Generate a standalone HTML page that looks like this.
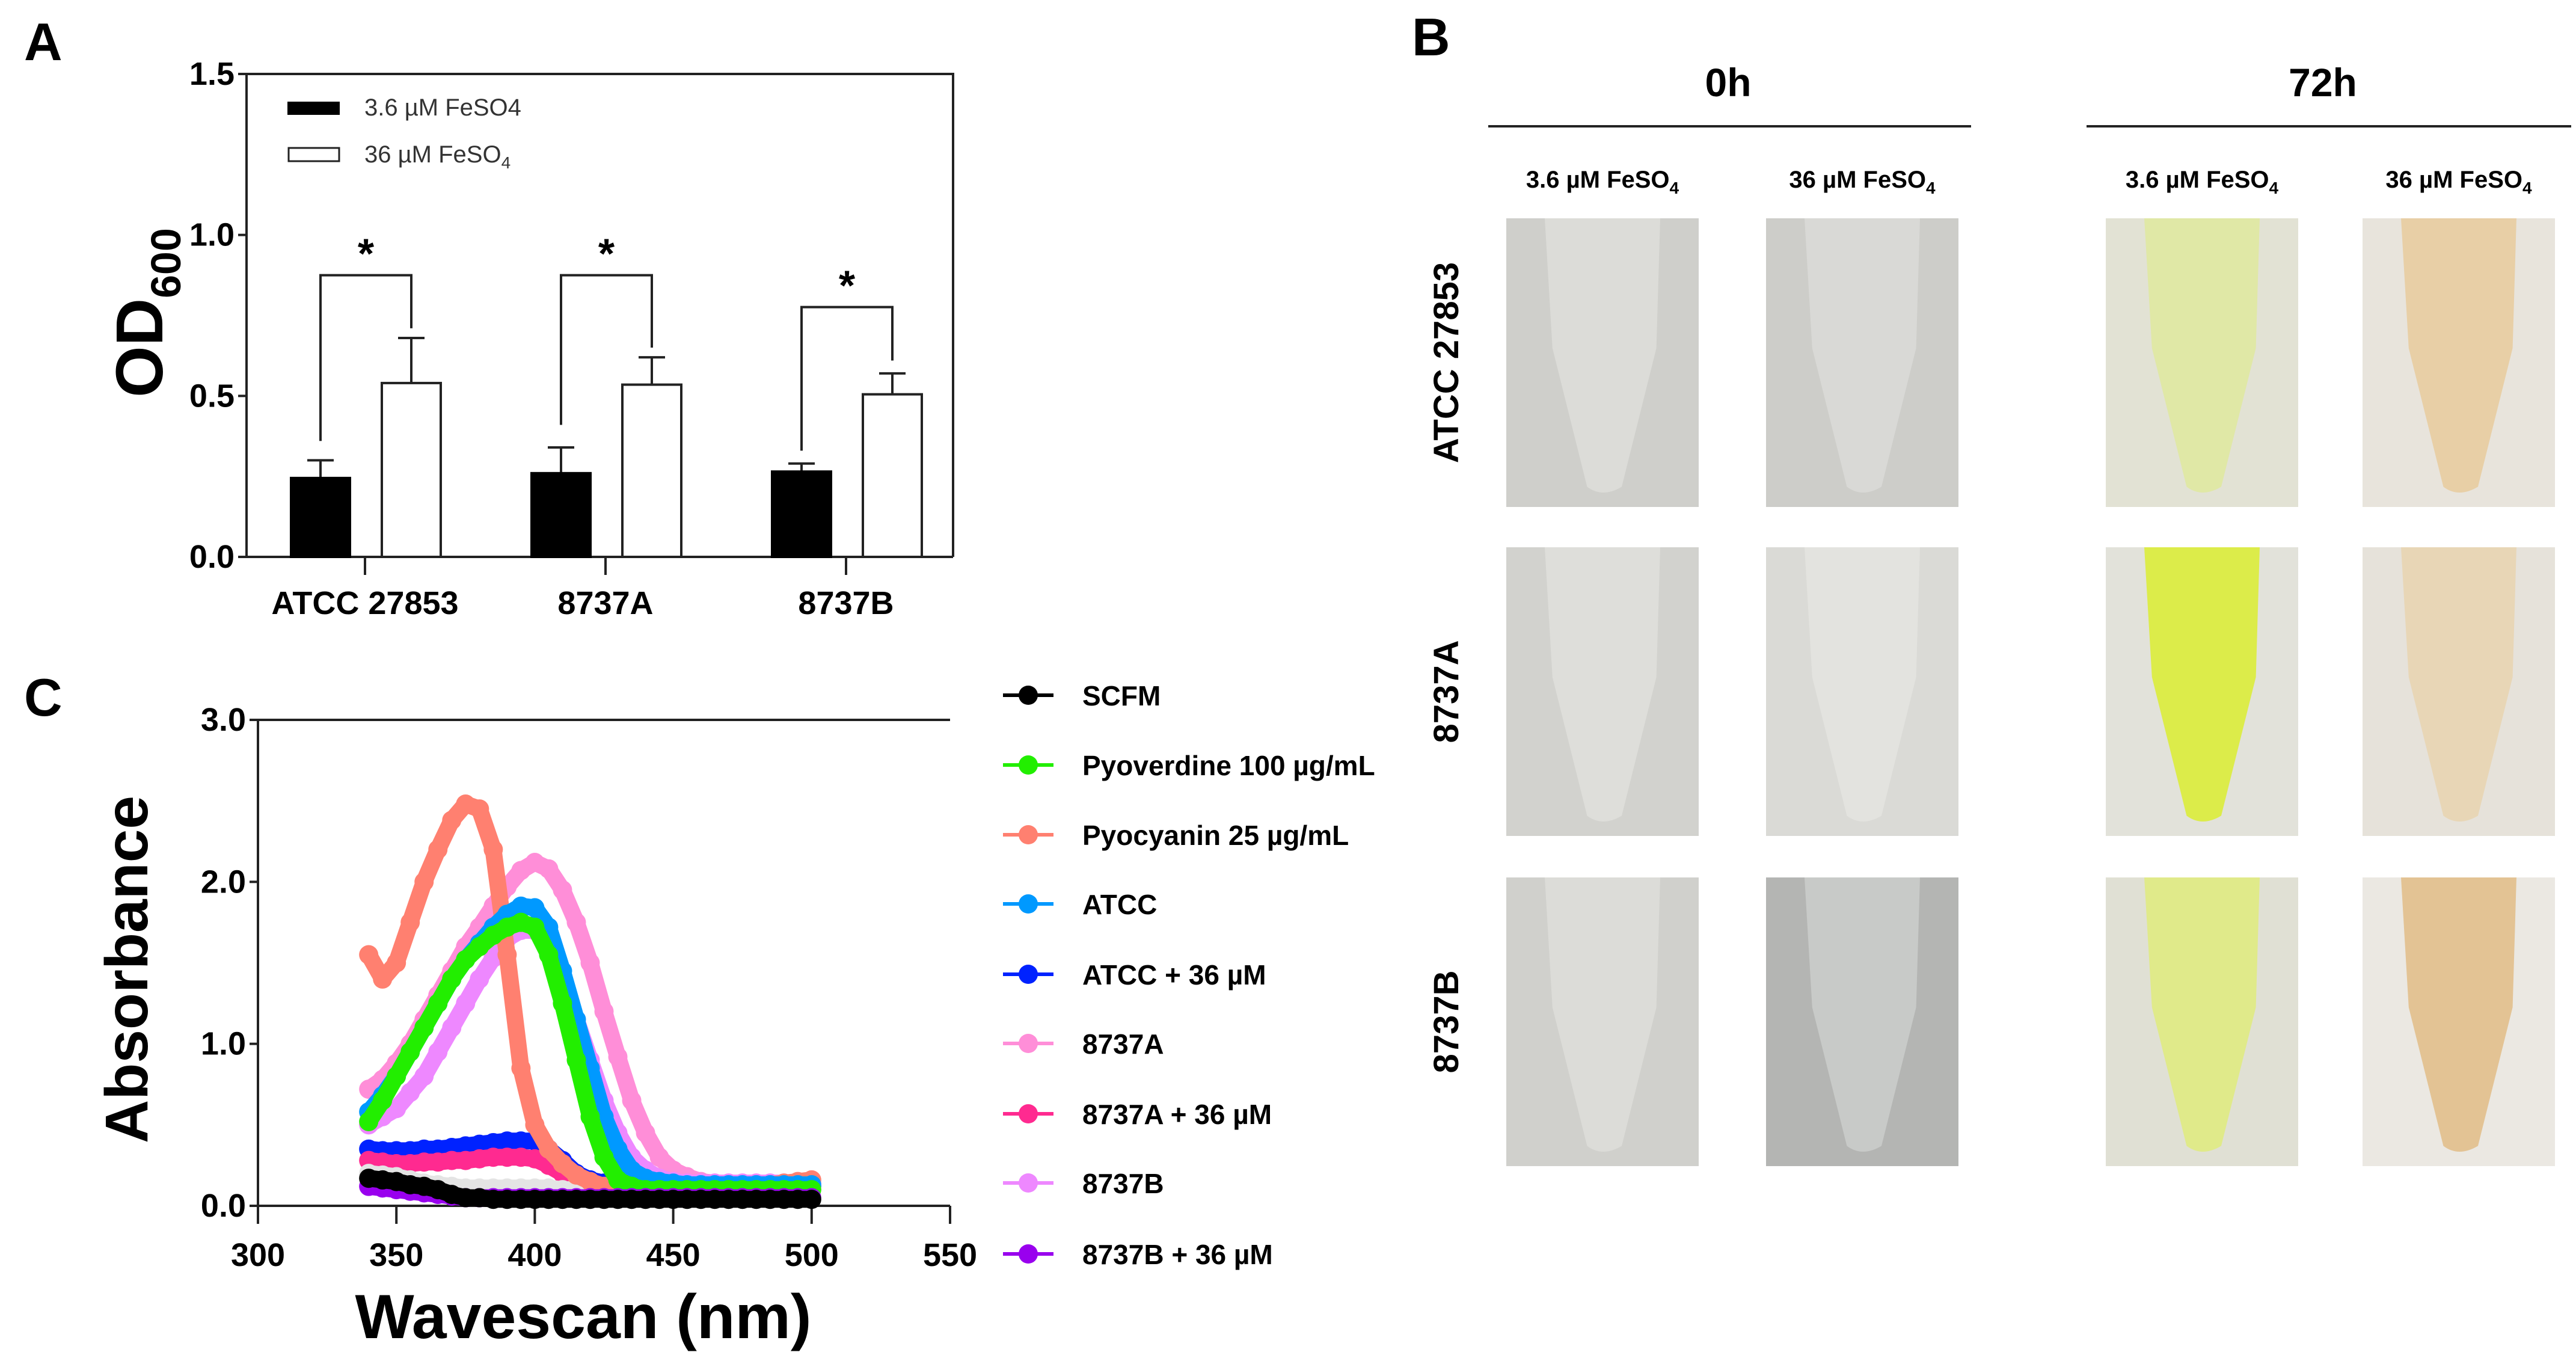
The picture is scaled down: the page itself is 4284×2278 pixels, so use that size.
<!DOCTYPE html>
<html><head><meta charset="utf-8">
<style>
html,body{margin:0;padding:0;background:#fff;}
svg{display:block;font-family:"Liberation Sans",sans-serif;}
</style></head>
<body>
<svg id="fig" width="4284" height="2278" viewBox="0 0 4284 2278" xmlns="http://www.w3.org/2000/svg">
<g id="panelA"></g>
<g id="panelB"></g>
<g id="panelC"></g>
</svg>
<script>
// ---------- Panel A data ----------
const barCategories = ["ATCC 27853", "8737A", "8737B"];
const lowIronMeans = [0.245, 0.26, 0.265];
const lowIronErr = [0.055, 0.08, 0.025];
const highIronMeans = [0.54, 0.535, 0.505];
const highIronErr = [0.14, 0.085, 0.065];
const bracketTops = [0.875, 0.875, 0.776];
const bracketLeft = [0.36, 0.41, 0.33];
const bracketRight = [0.71, 0.65, 0.61];
const barYTicks = ["0.0", "0.5", "1.0", "1.5"];

// ---------- Panel C data ----------
const wavelengths = [340,345,350,355,360,365,370,375,380,385,390,395,400,405,410,415,420,425,430,435,440,445,450,455,460,465,470,475,480,485,490,495,500];
const scfm      = [0.17,0.16,0.15,0.13,0.12,0.10,0.07,0.05,0.05,0.04,0.04,0.04,0.04,0.04,0.04,0.04,0.04,0.04,0.04,0.04,0.04,0.04,0.04,0.04,0.04,0.04,0.04,0.04,0.04,0.04,0.04,0.04,0.04];
const greyBand  = [0.20,0.19,0.18,0.16,0.14,0.13,0.12,0.11,0.11,0.11,0.11,0.11,0.11,0.11,0.10,0.10,0.10,0.10,0.10,0.10,0.10,0.10,0.10,0.10,0.10,0.10,0.10,0.10,0.10,0.10,0.10,0.10,0.10];
const pyoverdine= [0.52,0.65,0.80,0.95,1.10,1.25,1.40,1.52,1.60,1.67,1.72,1.75,1.72,1.55,1.25,0.90,0.55,0.30,0.16,0.12,0.10,0.10,0.10,0.10,0.10,0.10,0.10,0.10,0.10,0.10,0.10,0.10,0.10];
const pyocyanin = [1.55,1.40,1.50,1.75,2.00,2.20,2.38,2.48,2.45,2.20,1.55,0.85,0.50,0.35,0.26,0.19,0.15,0.12,0.10,0.10,0.10,0.10,0.10,0.10,0.11,0.11,0.12,0.12,0.13,0.13,0.14,0.15,0.16];
const atcc      = [0.58,0.68,0.80,0.95,1.10,1.25,1.40,1.52,1.62,1.72,1.80,1.85,1.84,1.72,1.45,1.15,0.85,0.55,0.35,0.22,0.17,0.15,0.14,0.13,0.13,0.13,0.13,0.13,0.13,0.13,0.13,0.13,0.13];
const atcc36    = [0.35,0.34,0.34,0.34,0.35,0.35,0.36,0.37,0.38,0.39,0.40,0.40,0.40,0.35,0.28,0.20,0.16,0.14,0.13,0.13,0.12,0.12,0.12,0.12,0.12,0.12,0.12,0.12,0.12,0.12,0.12,0.12,0.12];
const s8737A    = [0.72,0.78,0.88,1.00,1.15,1.30,1.45,1.60,1.72,1.85,1.97,2.07,2.12,2.08,1.95,1.75,1.50,1.20,0.92,0.65,0.45,0.30,0.22,0.18,0.15,0.14,0.14,0.14,0.14,0.14,0.14,0.14,0.14];
const s8737A36  = [0.28,0.27,0.26,0.26,0.27,0.27,0.28,0.28,0.29,0.30,0.30,0.30,0.29,0.25,0.20,0.14,0.11,0.10,0.10,0.10,0.10,0.10,0.10,0.10,0.10,0.10,0.10,0.10,0.10,0.10,0.10,0.10,0.10];
const s8737B    = [0.50,0.55,0.60,0.70,0.80,0.95,1.10,1.25,1.40,1.53,1.65,1.70,1.70,1.60,1.40,1.15,0.90,0.65,0.45,0.30,0.22,0.17,0.15,0.14,0.14,0.14,0.14,0.14,0.14,0.14,0.14,0.14,0.14];
const s8737B36  = [0.12,0.11,0.10,0.09,0.08,0.07,0.06,0.05,0.05,0.05,0.05,0.05,0.05,0.05,0.05,0.05,0.05,0.05,0.05,0.05,0.05,0.05,0.05,0.05,0.05,0.05,0.05,0.05,0.05,0.05,0.05,0.05,0.05];
const legendLabels = ["SCFM","Pyoverdine 100 µg/mL","Pyocyanin 25 µg/mL","ATCC","ATCC + 36 µM","8737A","8737A + 36 µM","8737B","8737B + 36 µM"];
const xTicksC = [300,350,400,450,500,550];
const yTicksC = ["0.0","1.0","2.0","3.0"];

const NS = "http://www.w3.org/2000/svg";
function mk(parent, tag, attrs, text){
  const e = document.createElementNS(NS, tag);
  for (const k in attrs) e.setAttribute(k, attrs[k]);
  if (text !== undefined) e.textContent = text;
  parent.appendChild(e);
  return e;
}

// ================= Panel A =================
(function(){
  const g = document.getElementById('panelA');
  const L=410, R=1585, T=123, B=926;
  const yA = v => B - v/1.5*(B-T);
  const xC = i => 607 + i*400;
  let t = mk(g,'text',{x:40,y:100,'font-size':88,'font-weight':'bold'},'A');
   
  let ax = mk(g,'path',{d:`M${L} ${T}H${R}V${B}M${L} ${T}V${B}H${R}`,stroke:'#222','stroke-width':4,fill:'none'});
   
  barYTicks.forEach((lab)=>{
    const y = yA(parseFloat(lab));
    mk(g,'line',{x1:L-14,x2:L,y1:y,y2:y,stroke:'#222','stroke-width':4});
    const tt = mk(g,'text',{x:L-20,y:y+18,'font-size':54,'font-weight':'bold','text-anchor':'end'},lab);
     
  });
  const yt = mk(g,'text',{x:0,y:0,'font-size':110,'font-weight':'bold','text-anchor':'middle',transform:'translate(270,520) rotate(-90)'});
   
  yt.textContent='OD';
  mk(yt,'tspan',{'font-size':70,dy:30},'600');
  barCategories.forEach((c,i)=>{
    const cx = xC(i);
    mk(g,'line',{x1:cx,x2:cx,y1:B,y2:B+30,stroke:'#222','stroke-width':4});
    const lt = mk(g,'text',{x:cx,y:B+95,'font-size':54,'font-weight':'bold','text-anchor':'middle'},c);
     
    const bw=98;
    const x1=cx-74, x2=cx+77;
    [[x1,lowIronMeans[i],lowIronErr[i]],[x2,highIronMeans[i],highIronErr[i]]].forEach(([x,m,e])=>{
      mk(g,'line',{x1:x,x2:x,y1:yA(m),y2:yA(m+e),stroke:'#222','stroke-width':4});
      mk(g,'line',{x1:x-22,x2:x+22,y1:yA(m+e),y2:yA(m+e),stroke:'#222','stroke-width':4});
    });
    const b1 = mk(g,'rect',{x:x1-bw/2,y:yA(lowIronMeans[i]),width:bw,height:B-yA(lowIronMeans[i]),fill:'#000',stroke:'#000','stroke-width':4});
     
    const b2 = mk(g,'rect',{x:x2-bw/2,y:yA(highIronMeans[i]),width:bw,height:B-yA(highIronMeans[i]),fill:'#fff',stroke:'#222','stroke-width':4});
     
    const br = mk(g,'path',{d:`M${x1} ${yA(bracketLeft[i])}V${yA(bracketTops[i])}H${x2}V${yA(bracketRight[i])}`,stroke:'#222','stroke-width':4,fill:'none'});
     
    const st = mk(g,'text',{x:(x1+x2)/2,y:yA(bracketTops[i])-12,'font-size':70,'font-weight':'bold','text-anchor':'middle'},'*');
     
  });
  const l1 = mk(g,'rect',{x:478,y:169,width:87,height:22,fill:'#000'});
   
  let lt1 = mk(g,'text',{x:606,y:192,'font-size':40,fill:'#333'},'3.6 µM FeSO4');
   
  const l2 = mk(g,'rect',{x:480,y:246,width:84,height:22,fill:'#fff',stroke:'#222','stroke-width':3});
   
  let lt2 = mk(g,'text',{x:606,y:270,'font-size':40,fill:'#333'},'36 µM FeSO');
  mk(lt2,'tspan',{'font-size':28,dy:10},'4');
   
})();

// ================= Panel B =================
(function(){
  const g = document.getElementById('panelB');
  let t = mk(g,'text',{x:2348,y:92,'font-size':88,'font-weight':'bold'},'B');
   
  [['0h',2874,2475,3278],['72h',3863,3470,4276]].forEach(([s,cx,a,b])=>{
    const h = mk(g,'text',{x:cx,y:160,'font-size':66,'font-weight':'bold','text-anchor':'middle'},s);
     
    mk(g,'line',{x1:a,x2:b,y1:210,y2:210,stroke:'#222','stroke-width':4});
  });
  const colX=[2505,2937,3502,3929], colW=320;
  const colLab=['3.6 µM FeSO','36 µM FeSO','3.6 µM FeSO','36 µM FeSO'];
  colX.forEach((x,i)=>{
    const h=mk(g,'text',{x:x+colW/2,y:312,'font-size':40,'font-weight':'bold','text-anchor':'middle'},colLab[i]);
    mk(h,'tspan',{'font-size':28,dy:10},'4');
     
  });
  const rowY=[363,910,1459], rowH=480;
  const rowLab=['ATCC 27853','8737A','8737B'];
  rowY.forEach((y,i)=>{
    const r=mk(g,'text',{x:0,y:0,'font-size':58,'font-weight':'bold','text-anchor':'middle',transform:`translate(2425,${y+rowH/2}) rotate(-90)`},rowLab[i]);
     
  });
  const pal = [
    [['#cfcfcb','#dcdcd8'],['#cdcdc9','#d9d9d6'],['#e2e2d4','#e0e8a6'],['#e8e4dc','#e8cfa6']],
    [['#d2d2ce','#dededa'],['#dadad6','#e3e3df'],['#e2e2da','#dcec4a'],['#e6e2da','#e8d6b6']],
    [['#d0d0cc','#dcdcd8'],['#b4b5b3','#c8cac8'],['#e0e0d4','#e0ea8a'],['#ebe8e2','#e3c394']]
  ];
  rowY.forEach((y,r)=>colX.forEach((x,c)=>{
    const ph = mk(g,'g',{});
     
    mk(ph,'rect',{x:x,y:y,width:colW,height:rowH,fill:pal[r][c][0]});
    const w=colW,h=rowH;
    mk(ph,'path',{d:`M${x+w*0.2} ${y}L${x+w*0.8} ${y}L${x+w*0.78} ${y+h*0.45}L${x+w*0.6} ${y+h*0.93}Q${x+w*0.5} ${y+h*0.97} ${x+w*0.42} ${y+h*0.93}L${x+w*0.24} ${y+h*0.45}Z`,fill:pal[r][c][1]});
  }));
})();

// ================= Panel C =================
(function(){
  const g = document.getElementById('panelC');
  const L=429, R=1580, T=1197, B=2005;
  const xS = v => L + (v-300)/250*(R-L);
  const yS = v => B - v/3*(B-T);
  let t = mk(g,'text',{x:40,y:1190,'font-size':88,'font-weight':'bold'},'C');
   
  const ax = mk(g,'path',{d:`M${L} ${T}H${R}M${L} ${T}V${B}H${R}`,stroke:'#222','stroke-width':4,fill:'none'});
   
  yTicksC.forEach(lab=>{
    const y=yS(parseFloat(lab));
    mk(g,'line',{x1:L-14,x2:L,y1:y,y2:y,stroke:'#222','stroke-width':4});
    const tt=mk(g,'text',{x:L-20,y:y+18,'font-size':54,'font-weight':'bold','text-anchor':'end'},lab);
     
  });
  xTicksC.forEach(v=>{
    const x=xS(v);
    mk(g,'line',{x1:x,x2:x,y1:B,y2:B+30,stroke:'#222','stroke-width':4});
    const tt=mk(g,'text',{x:x,y:B+100,'font-size':54,'font-weight':'bold','text-anchor':'middle'},String(v));
     
  });
  const xl=mk(g,'text',{x:970,y:2225,'font-size':104,'font-weight':'bold','text-anchor':'middle'},'Wavescan (nm)');
   
  const yl=mk(g,'text',{x:0,y:0,'font-size':100,'font-weight':'bold','text-anchor':'middle',transform:'translate(245,1612) rotate(-90)'},'Absorbance');
   

  const series = [
    [s8737A,'#ff8ed8','series-8737a'],
    [s8737B,'#ee88ff','series-8737b'],
    [atcc36,'#0022ff','series-atcc-36'],
    [s8737A36,'#ff2a90','series-8737a-36'],
    [greyBand,'#e4e4e4','series-background-band'],
    [pyocyanin,'#ff8070','series-pyocyanin'],
    [atcc,'#0099ff','series-atcc'],
    [pyoverdine,'#22ee00','series-pyoverdine'],
    [s8737B36,'#9900ee','series-8737b-36'],
    [scfm,'#000000','series-scfm']
  ];
  series.forEach(([vals,col,name])=>{
    const sg=mk(g,'g',{});
     
    const d=vals.map((v,i)=>(i?'L':'M')+xS(wavelengths[i]).toFixed(1)+' '+yS(v).toFixed(1)).join('');
    mk(sg,'path',{d:d,stroke:col,'stroke-width':28,fill:'none','stroke-linecap':'round','stroke-linejoin':'round'});
    vals.forEach((v,i)=>{
      const c=mk(sg,'circle',{cx:xS(wavelengths[i]),cy:yS(v),r:16,fill:col});
       
    });
  });

  const legCols=['#000','#22ee00','#ff8070','#0099ff','#0022ff','#ff8ed8','#ff2a90','#ee88ff','#9900ee'];
  const legY=[1156,1272,1388,1503,1620,1735,1852,1967,2085];
  legendLabels.forEach((lab,i)=>{
    const lg=mk(g,'g',{});
     
    mk(lg,'line',{x1:1668,x2:1752,y1:legY[i],y2:legY[i],stroke:legCols[i],'stroke-width':6});
    mk(lg,'circle',{cx:1710,cy:legY[i],r:16,fill:legCols[i]});
    mk(lg,'text',{x:1800,y:legY[i]+17,'font-size':46,'font-weight':'bold'},lab);
  });
})();
</script>
</body></html>
